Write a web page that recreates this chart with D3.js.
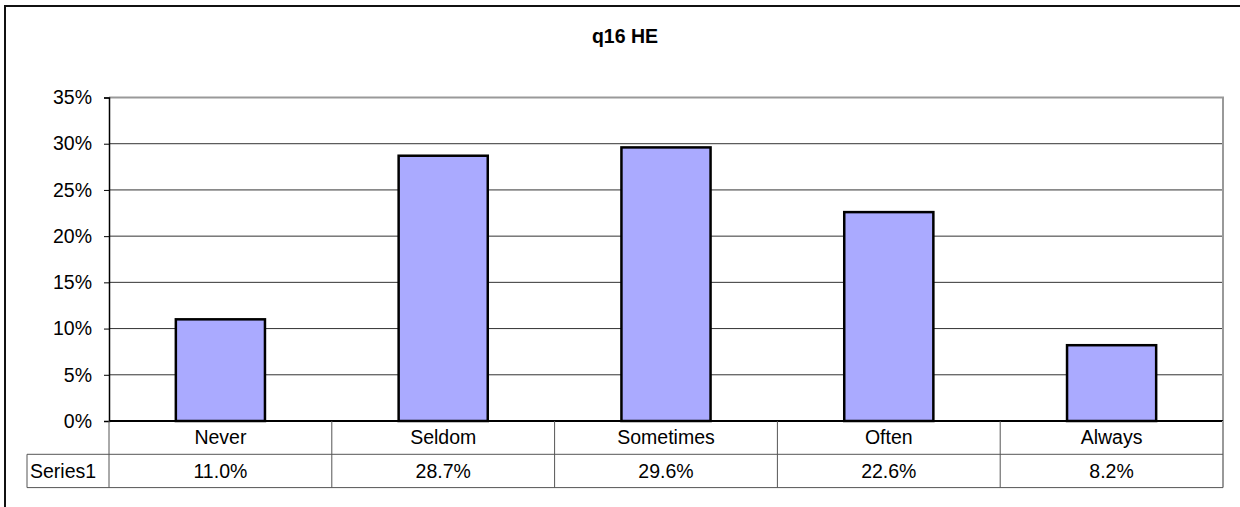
<!DOCTYPE html>
<html lang="en">
<head>
<meta charset="UTF-8">
<title>q16 HE</title>
<script src="https://d3js.org/d3.v7.min.js"></script>
<style>
  body { margin: 0; background: #fff; }
  svg text { font-family: Arial, "Liberation Sans", sans-serif; fill: #000; }
</style>
</head>
<body>
<div id="chart"></div>
<script>
// chart data
const categories = ["Never", "Seldom", "Sometimes", "Often", "Always"];
const values = [0.110, 0.287, 0.296, 0.226, 0.082];
const yTicks = [0, 0.05, 0.10, 0.15, 0.20, 0.25, 0.30, 0.35];
const seriesName = "Series1";

const width = 1240, height = 507;
const plot = {left: 109, right: 1223, top: 97.5, bottom: 421};
const rowH = 33.3;
const fontSize = "19.5px";

const svg = d3.select("#chart").append("svg")
    .attr("width", width)
    .attr("height", height);

// outer frame (right/bottom sides fall outside the picture)
svg.append("rect")
    .attr("x", 5).attr("y", 6)
    .attr("width", 1250).attr("height", 520)
    .attr("fill", "none")
    .attr("stroke", "#111")
    .attr("stroke-width", 2);

svg.append("text")
    .attr("x", 625).attr("y", 42.5)
    .attr("text-anchor", "middle")
    .style("font-size", "19.5px")
    .style("font-weight", "bold")
    .text("q16 HE");

const x = d3.scaleBand()
    .domain(categories)
    .range([plot.left, plot.right])
    .paddingInner(0.6)
    .paddingOuter(0.3);

const y = d3.scaleLinear()
    .domain([0, 0.35])
    .range([plot.bottom, plot.top]);

// gridlines
svg.append("g")
    .selectAll("line")
    .data(yTicks.slice(1, -1))
    .join("line")
    .attr("x1", plot.left).attr("x2", plot.right)
    .attr("y1", d => y(d)).attr("y2", d => y(d))
    .attr("stroke", "#333")
    .attr("stroke-width", 1);

// plot border top/right (gray)
svg.append("path")
    .attr("d", `M${plot.left},${y(0.35)}H${plot.right}V${plot.bottom}`)
    .attr("fill", "none")
    .attr("stroke", "#999")
    .attr("stroke-width", 2);

// y axis
const yAxis = d3.axisLeft(y)
    .tickValues(yTicks)
    .tickFormat(d3.format(".0%"))
    .tickSize(5)
    .tickPadding(12);

const ya = svg.append("g")
    .attr("transform", `translate(${plot.left},0)`)
    .call(yAxis);
ya.select(".domain").attr("stroke", "#000").attr("stroke-width", 1.5);
ya.selectAll(".tick line").attr("stroke", "#000");
ya.selectAll(".tick text")
    .style("font-size", fontSize)
    .attr("font-family", null);

// bars
svg.append("g")
    .selectAll("rect")
    .data(values)
    .join("rect")
    .attr("x", (d, i) => x(categories[i]))
    .attr("y", d => y(d))
    .attr("width", x.bandwidth())
    .attr("height", d => y(0) - y(d))
    .attr("fill", "#AAAAFF")
    .attr("stroke", "#000")
    .attr("stroke-width", 2.5);

// baseline
svg.append("line")
    .attr("x1", plot.left).attr("x2", plot.right)
    .attr("y1", plot.bottom).attr("y2", plot.bottom)
    .attr("stroke", "#000")
    .attr("stroke-width", 2);

// data table
const table = svg.append("g");
const colEdge = d3.range(categories.length + 1).map(i => plot.left + i * x.step());
const row1 = plot.bottom, row2 = plot.bottom + rowH, row3 = plot.bottom + 2 * rowH;
const labelLeft = 27;

table.selectAll("line.sep")
    .data(colEdge)
    .join("line")
    .attr("class", "sep")
    .attr("x1", d => d).attr("x2", d => d)
    .attr("y1", row1).attr("y2", row3)
    .attr("stroke", (d, i) => i === categories.length ? "#999" : "#555")
    .attr("stroke-width", (d, i) => i === categories.length ? 2 : 1);

table.append("path")
    .attr("d", `M${labelLeft},${row2}H${plot.right}M${labelLeft},${row3}H${plot.right}M${labelLeft},${row2}V${row3}`)
    .attr("fill", "none")
    .attr("stroke", "#555")
    .attr("stroke-width", 1);

table.selectAll("text.cat")
    .data(categories)
    .join("text")
    .attr("class", "cat")
    .attr("x", d => x(d) + x.bandwidth() / 2)
    .attr("y", row1 + rowH / 2)
    .attr("dy", "0.35em")
    .attr("text-anchor", "middle")
    .style("font-size", fontSize)
    .text(d => d);

table.selectAll("text.val")
    .data(values)
    .join("text")
    .attr("class", "val")
    .attr("x", (d, i) => x(categories[i]) + x.bandwidth() / 2)
    .attr("y", row2 + rowH / 2)
    .attr("dy", "0.35em")
    .attr("text-anchor", "middle")
    .style("font-size", fontSize)
    .text(d => d3.format(".1%")(d));

table.append("text")
    .attr("x", 30)
    .attr("y", row2 + rowH / 2)
    .attr("dy", "0.35em")
    .style("font-size", fontSize)
    .text(seriesName);
</script>
</body>
</html>
